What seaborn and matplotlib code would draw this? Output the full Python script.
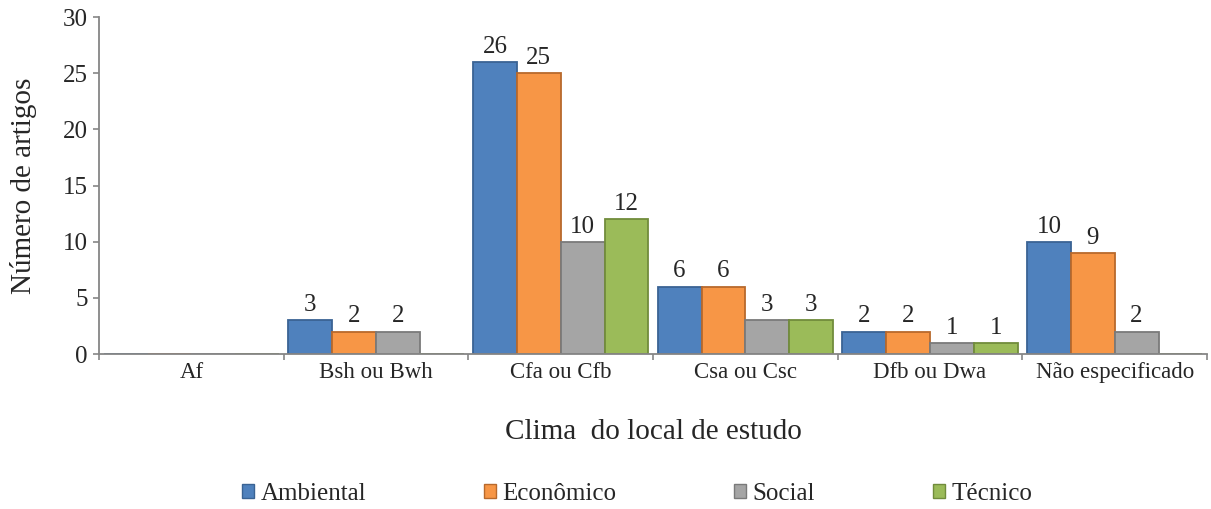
import matplotlib
matplotlib.use("Agg")
import matplotlib.pyplot as plt
import numpy as np
import pandas as pd
import seaborn as sns

# Number of articles per climate of the study site, by sustainability dimension
categories = ["Af", "Bsh ou Bwh", "Cfa ou Cfb", "Csa ou Csc", "Dfb ou Dwa", "Não especificado"]
series = ["Ambiental", "Econômico", "Social", "Técnico"]
ambiental = [0, 3, 26, 6, 2, 10]
economico = [0, 2, 25, 6, 2, 9]
social = [0, 2, 10, 3, 1, 2]
tecnico = [0, 0, 12, 3, 1, 0]

fill_colors = ["#4F81BD", "#F79646", "#A5A5A5", "#9BBB59"]
edge_colors = ["#3A6394", "#B8692C", "#7A7A7A", "#718C3C"]
axis_gray = "#868686"

wide = pd.DataFrame({
    "Clima": categories,
    "Ambiental": ambiental,
    "Econômico": economico,
    "Social": social,
    "Técnico": tecnico,
})
long = wide.melt(id_vars="Clima", var_name="Dimensão", value_name="Artigos")

sns.set_style("white")
plt.rcParams["font.family"] = ["Liberation Serif", "DejaVu Serif"]

fig, ax = plt.subplots(figsize=(12.11, 5.09), dpi=100)
fig.subplots_adjust(left=0.0818, right=0.9967, top=0.9666, bottom=0.3045)

sns.barplot(
    data=long, x="Clima", y="Artigos", hue="Dimensão",
    order=categories, hue_order=series, palette=fill_colors,
    saturation=1, width=0.95, errorbar=None, legend=False, ax=ax,
)

value_lists = [ambiental, economico, social, tecnico]
for container, values, ec in zip(ax.containers, value_lists, edge_colors):
    for patch in container:
        patch.set_edgecolor(ec)
        patch.set_linewidth(1.3)
    ax.bar_label(container, labels=[str(v) if v else "" for v in values],
                 padding=3, fontsize=18)

# Axes limits and ticks
ax.set_ylim(0, 30)
ax.set_yticks(np.arange(0, 31, 5))
ax.set_xlim(-0.5, len(categories) - 0.5)
ax.set_xticks(np.arange(-0.5, len(categories), 1.0), labels=[""] * (len(categories) + 1))
ax.set_xticks(np.arange(len(categories)), labels=categories, minor=True)

ax.tick_params(axis="y", direction="out", length=4, width=1.2, color=axis_gray,
               labelsize=18, pad=4, left=True)
ax.tick_params(axis="x", which="major", direction="out", length=4, width=1.2,
               color=axis_gray, bottom=True)
ax.tick_params(axis="x", which="minor", length=0, labelsize=16.5, pad=6)

for side in ("top", "right"):
    ax.spines[side].set_visible(False)
for side in ("left", "bottom"):
    ax.spines[side].set_color(axis_gray)
    ax.spines[side].set_linewidth(1.3)

ax.grid(False)

ax.set_xlabel("Clima  do local de estudo", fontsize=21)
ax.xaxis.label.set_va("center")
ax.xaxis.set_label_coords(0.5, -0.232)
ax.set_ylabel("Número de artigos", fontsize=21)
ax.yaxis.label.set_va("center")
ax.yaxis.set_label_coords(-0.068, 0.5)

# Legend with small square swatches along the bottom
handles = [plt.Rectangle((0, 0), 1, 1, facecolor=fc, edgecolor=ec, linewidth=1)
           for fc, ec in zip(fill_colors, edge_colors)]
fig.legend(handles, series, loc="center", bbox_to_anchor=(0.526, 0.0295),
           ncol=4, frameon=False, fontsize=18, handlelength=0.5, handleheight=0.5,
           handletextpad=0.25, columnspacing=4.7, borderpad=0, borderaxespad=0)

fig.savefig("out.png", dpi=100)
